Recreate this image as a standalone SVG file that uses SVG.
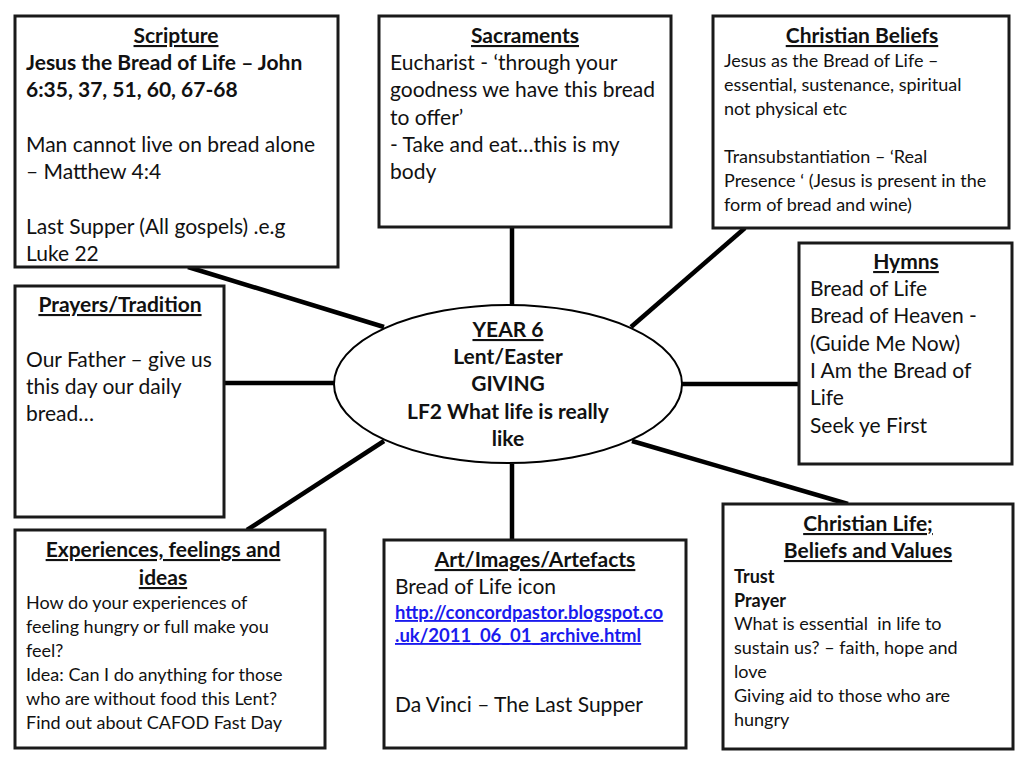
<svg xmlns="http://www.w3.org/2000/svg" width="1024" height="768" viewBox="0 0 1024 768">
<style>
.box{fill:#fff;stroke:#1a1a1a;stroke-width:3}
.conn{stroke:#000;stroke-width:4.5;fill:none;stroke-linecap:butt}
text{font-family:Lato,"Open Sans","Liberation Sans",sans-serif;fill:#111}
.t{font-size:21px;font-weight:bold;text-decoration:underline;text-anchor:middle}
.b{font-size:21px}
.bb{font-size:21px;font-weight:bold}
.s{font-size:18px}
.sb{font-size:18px;font-weight:bold}
.c{font-size:21px;font-weight:bold;text-anchor:middle}
.link{font-size:18.5px;font-weight:bold;fill:#1a1aee;text-decoration:underline}
</style>
<rect width="1024" height="768" fill="#fff"/>
<g id="connectors">
<line class="conn" x1="188" y1="267" x2="384" y2="327"/>
<line class="conn" x1="512" y1="227" x2="512" y2="305"/>
<line class="conn" x1="745" y1="228" x2="631" y2="327"/>
<line class="conn" x1="681" y1="384" x2="799" y2="384"/>
<line class="conn" x1="224" y1="383" x2="334" y2="383"/>
<line class="conn" x1="247" y1="530" x2="384" y2="441"/>
<line class="conn" x1="512" y1="464" x2="512" y2="540"/>
<line class="conn" x1="632" y1="441" x2="848" y2="504"/>
</g>
<g id="scripture">
<rect class="box" x="15" y="16" width="323" height="251"/>
<text class="t" x="176" y="43">Scripture</text>
<text class="bb" x="26" y="70">Jesus the Bread of Life – John</text>
<text class="bb" x="26" y="97">6:35, 37, 51, 60, 67-68</text>
<text class="b" x="26" y="152">Man cannot live on bread alone</text>
<text class="b" x="26" y="179">– Matthew 4:4</text>
<text class="b" x="26" y="234">Last Supper (All gospels) .e.g</text>
<text class="b" x="26" y="261">Luke 22</text>
</g>
<g id="sacraments">
<rect class="box" x="379" y="16" width="292" height="211"/>
<text class="t" x="525" y="43">Sacraments</text>
<text class="b" x="390" y="70">Eucharist - ‘through your</text>
<text class="b" x="390" y="97">goodness we have this bread</text>
<text class="b" x="390" y="125">to offer’</text>
<text class="b" x="390" y="152">- Take and eat…this is my</text>
<text class="b" x="390" y="179">body</text>
</g>
<g id="christian-beliefs">
<rect class="box" x="713" y="16" width="296" height="212"/>
<text class="t" x="862" y="43">Christian Beliefs</text>
<text class="s" x="724" y="67">Jesus as the Bread of Life –</text>
<text class="s" x="724" y="91">essential, sustenance, spiritual</text>
<text class="s" x="724" y="115">not physical etc</text>
<text class="s" x="724" y="163">Transubstantiation – ‘Real</text>
<text class="s" x="724" y="187">Presence ‘ (Jesus is present in the</text>
<text class="s" x="724" y="211">form of bread and wine)</text>
</g>
<g id="hymns">
<rect class="box" x="799" y="243" width="213" height="221"/>
<text class="t" x="906" y="269">Hymns</text>
<text class="b" x="810" y="296">Bread of Life</text>
<text class="b" x="810" y="323">Bread of Heaven -</text>
<text class="b" x="810" y="351">(Guide Me Now)</text>
<text class="b" x="810" y="378">I Am the Bread of</text>
<text class="b" x="810" y="405">Life</text>
<text class="b" x="810" y="433">Seek ye First</text>
</g>
<g id="prayers">
<rect class="box" x="15" y="286" width="209" height="231"/>
<text class="t" x="120" y="312">Prayers/Tradition</text>
<text class="b" x="26" y="367">Our Father – give us</text>
<text class="b" x="26" y="394">this day our daily</text>
<text class="b" x="26" y="421">bread…</text>
</g>
<g id="centre">
<ellipse cx="508" cy="384" rx="174" ry="79" fill="#fff" stroke="#000" stroke-width="2"/>
<text class="c" x="508" y="337" text-decoration="underline">YEAR 6</text>
<text class="c" x="508" y="364">Lent/Easter</text>
<text class="c" x="508" y="391">GIVING</text>
<text class="c" x="508" y="419">LF2 What life is really</text>
<text class="c" x="508" y="446">like</text>
</g>
<g id="experiences">
<rect class="box" x="15" y="530" width="310" height="218"/>
<text class="t" x="163" y="557">Experiences, feelings and</text>
<text class="t" x="163" y="585">ideas</text>
<text class="s" x="26" y="609">How do your experiences of</text>
<text class="s" x="26" y="633">feeling hungry or full make you</text>
<text class="s" x="26" y="657">feel?</text>
<text class="s" x="26" y="681">Idea: Can I do anything for those</text>
<text class="s" x="26" y="705">who are without food this Lent?</text>
<text class="s" x="26" y="729">Find out about CAFOD Fast Day</text>
</g>
<g id="art">
<rect class="box" x="384" y="540" width="302" height="208"/>
<text class="t" x="535" y="567">Art/Images/Artefacts</text>
<text class="b" x="395" y="594">Bread of Life icon</text>
<text class="link" x="395" y="619">http://concordpastor.blogspot.co</text>
<text class="link" x="395" y="642">.uk/2011_06_01_archive.html</text>
<text class="b" x="395" y="712">Da Vinci – The Last Supper</text>
</g>
<g id="christian-life">
<rect class="box" x="723" y="504" width="290" height="245"/>
<text class="t" x="868" y="531">Christian Life;</text>
<text class="t" x="868" y="558">Beliefs and Values</text>
<text class="sb" x="734" y="583">Trust</text>
<text class="sb" x="734" y="607">Prayer</text>
<text class="s" x="734" y="630" xml:space="preserve">What is essential  in life to</text>
<text class="s" x="734" y="654">sustain us? – faith, hope and</text>
<text class="s" x="734" y="678">love</text>
<text class="s" x="734" y="702">Giving aid to those who are</text>
<text class="s" x="734" y="726">hungry</text>
</g>
</svg>
